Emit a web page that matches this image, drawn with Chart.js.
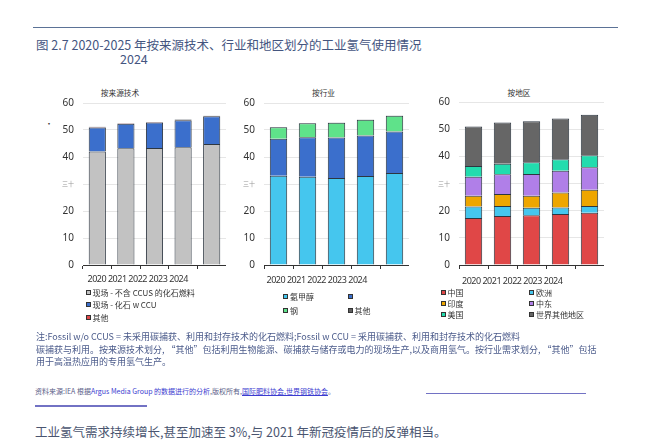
<!DOCTYPE html>
<html>
<head>
<meta charset="utf-8">
<script src="https://cdn.jsdelivr.net/npm/chart.js@4"></script>
<style>
  body { margin: 0; width: 664px; height: 446px; position: relative; overflow: hidden; background: #fff;
         font-family: "Noto Sans CJK SC", "Noto Sans", sans-serif; }
  .abs { position: absolute; white-space: nowrap; }
  .rule { position: absolute; }
  .panel { position: absolute; }
  .ptitle { position: absolute; font-size: 7.7px; color: #333; transform: translateX(-50%); }
  .years { position: absolute; font-family: "Noto Sans", sans-serif; font-size: 9px; color: #333; letter-spacing: -0.5px; white-space: nowrap; }
  .legend { position: absolute; display: grid; font-size: 8px; color: #333; }
  .legend div { display: flex; align-items: center; white-space: nowrap; }
  .legend span.box { display: inline-block; width: 5px; height: 5px; box-sizing: border-box; border: 1px solid #333; margin-right: 2px; }
</style>
</head>
<body>

<div class="rule" style="left:33px; top:26.5px; width:585px; height:1.3px; background:#5b7296;"></div>
<div class="abs" style="left:36px; top:35px; font-size:12.5px; color:#44557f;">图 2.7 2020-2025 年按来源技术、行业和地区划分的工业氢气使用情况</div>
<div class="abs" style="left:120px; top:48.5px; font-size:12.5px; color:#44557f;">2024</div>
<div class="abs" style="left:45px; top:118px; font-size:8px; color:#333;">·</div>

<div class="ptitle" style="left:120px; top:87px;">按来源技术</div>
<div class="ptitle" style="left:323.5px; top:87px;">按行业</div>
<div class="ptitle" style="left:519px; top:87px;">按地区</div>

<div class="panel" style="left:40px; top:88px; width:186px; height:192px;"><canvas id="c1"></canvas></div>
<div class="panel" style="left:220px; top:88px; width:189px; height:192px;"><canvas id="c2"></canvas></div>
<div class="panel" style="left:410px; top:87px; width:194px; height:193px;"><canvas id="c3"></canvas></div>

<div class="years" id="y1" style="left:87.5px; top:272px;"></div>
<div class="years" id="y2" style="left:266.5px; top:273px;"></div>
<div class="years" id="y3" style="left:462px; top:274px;"></div>

<div class="legend" id="l1" style="left:85.5px; top:286px; grid-template-columns:140px; grid-auto-rows:12.5px;"></div>
<div class="legend" id="l2" style="left:283px; top:289px; grid-template-columns:64.5px 60px; grid-auto-rows:14px;"></div>
<div class="legend" id="l3" style="left:440.5px; top:286.5px; grid-template-columns:88.5px 80px; grid-auto-rows:11px;"></div>

<div class="abs" style="left:36px; top:331px; font-size:9px; line-height:12.5px; color:#4a5a8a;">注:Fossil w/o CCUS = 未采用碳捕获、利用和封存技术的化石燃料;Fossil w CCU = 采用碳捕获、利用和封存技术的化石燃料<br>碳捕获与利用。按来源技术划分, “其他”包括利用生物能源、碳捕获与储存或电力的现场生产,以及商用氢气。按行业需求划分, “其他”包括<br>用于高温热应用的专用氢气生产。</div>

<div class="abs" style="left:35px; top:386px; font-size:7px; color:#5a6088;">资料来源:IEA 根据<span style="color:#3b3bd0;">Argus Media Group 的数据进行的分析</span>,版权所有,<span style="color:#3b3bd0; text-decoration:underline;">国际肥料协会,世界钢铁协会</span>。</div>
<div class="rule" style="left:426px; top:392.5px; width:160px; height:1.5px; background:#7272c4;"></div>
<div class="rule" style="left:35px; top:405px; width:112px; height:1.5px; background:#7272c4;"></div>

<div class="abs" style="left:35px; top:422px; font-size:12.5px; color:#4a5570;">工业氢气需求持续增长,甚至加速至 3%,与 2021 年新冠疫情后的反弹相当。</div>

<script>
const years = ['2020', '2021', '2022', '2023', '2024'];
const yTicks = [0, 10, 20, 30, 40, 50, 60];
const yTickLabels = ['0', '10', '20', '三十', '40', '50', '60'];

// 按来源技术
const sourceLabels = ['现场 - 不含 CCUS 的化石燃料', '现场 - 化石 w CCU', '其他'];
const fossilNoCcus = [42.0, 43.2, 43.3, 43.6, 44.8];
const fossilCcu = [8.9, 9.1, 9.5, 10.0, 10.3];
const sourceOther = [0.3, 0.2, 0.2, 0.3, 0.2];

// 按行业
const sectorLabels = ['氨甲醇', '', '钢', '其他'];
const ammoniaMethanol = [33.1, 32.7, 32.2, 33.0, 34.1];
const refining = [13.7, 14.6, 15.0, 15.0, 15.3];
const steel = [4.2, 5.2, 5.5, 5.8, 5.9];
const sectorOther = [0.1, 0.1, 0.1, 0.1, 0.1];

// 按地区
const regionLabels = ['中国', '欧洲', '印度', '中东', '美国', '世界其他地区'];
const china = [17.3, 18.0, 18.3, 18.8, 19.2];
const europe = [4.2, 3.7, 2.8, 2.4, 2.5];
const india = [4.0, 4.4, 4.4, 5.5, 6.0];
const middleEast = [7.0, 7.3, 8.0, 8.0, 8.3];
const usa = [3.9, 3.9, 4.3, 4.2, 4.4];
const restOfWorld = [14.6, 15.2, 15.1, 15.0, 14.9];

const sourceColors = ['#c2c2c2', '#3b6fcc', '#e04848'];
const sectorColors = ['#45c6ee', '#3b6fcc', '#5fe28a', '#5f5f5f'];
const regionColors = ['#e04747', '#45c6ee', '#eea600', '#b07fe8', '#22dcae', '#666666'];

function makeSets(labels, series, colors) {
  return series.map((data, i) => ({
    label: labels[i],
    data: data,
    backgroundColor: colors[i],
    borderColor: '#2d3640',
    borderWidth: 1,
    barPercentage: 0.6,
    categoryPercentage: 1
  }));
}

function makeChart(id, datasets, yWidth) {
  return new Chart(id, {
    type: 'bar',
    data: { labels: years, datasets: datasets },
    options: {
      responsive: true,
      maintainAspectRatio: false,
      animation: false,
      layout: { padding: { top: 8, right: 0, bottom: 0, left: 0 } },
      plugins: { legend: { display: false }, tooltip: { enabled: false } },
      scales: {
        x: {
          stacked: true,
          ticks: { display: false },
          grid: { display: true, offset: true, drawOnChartArea: false, drawTicks: true, tickLength: 4, color: '#333' },
          border: { display: true, color: '#333', width: 1 },
          afterFit: s => { s.height = 6; }
        },
        y: {
          stacked: true,
          min: 0,
          max: 60,
          afterBuildTicks: s => { s.ticks = yTicks.map(v => ({ value: v })); },
          ticks: {
            padding: 9,
            callback: (v, i) => yTickLabels[i],
            color: c => (c.tick && c.tick.value === 30) ? '#999' : '#333',
            font: c => (c.tick && c.tick.value === 30)
              ? { size: 6, family: '"Noto Sans CJK SC", sans-serif' }
              : { size: 10, family: '"Noto Sans", sans-serif' }
          },
          grid: { color: '#e6e6e6', drawTicks: false },
          border: { display: false },
          afterFit: s => { s.width = yWidth; }
        }
      }
    }
  });
}

function fillLegend(id, labels, colors) {
  const el = document.getElementById(id);
  labels.forEach((name, i) => {
    const item = document.createElement('div');
    item.innerHTML = '<span class="box" style="background:' + colors[i] + '"></span>' + name;
    el.appendChild(item);
  });
}

makeChart('c1', makeSets(sourceLabels, [fossilNoCcus, fossilCcu, sourceOther], sourceColors), 43);
makeChart('c2', makeSets(sectorLabels, [ammoniaMethanol, refining, steel, sectorOther], sectorColors), 44);
makeChart('c3', makeSets(regionLabels, [china, europe, india, middleEast, usa, restOfWorld], regionColors), 49);

['y1', 'y2', 'y3'].forEach(id => { document.getElementById(id).textContent = years.join(' '); });

fillLegend('l1', sourceLabels, sourceColors);
fillLegend('l2', sectorLabels, sectorColors);
fillLegend('l3', regionLabels, regionColors);
</script>
</body>
</html>
